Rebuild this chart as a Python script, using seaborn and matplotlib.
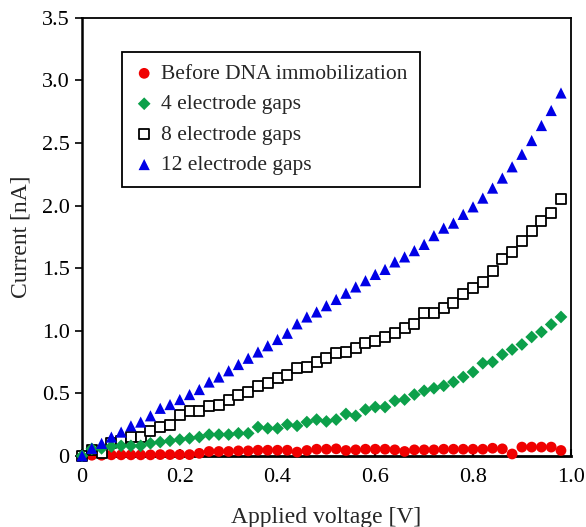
import pandas as pd
import matplotlib
matplotlib.use('Agg')
import matplotlib.pyplot as plt
import seaborn as sns

# Applied voltage [V]
voltage = [0.00, 0.02, 0.04, 0.06, 0.08, 0.10, 0.12, 0.14, 0.16, 0.18,
           0.20, 0.22, 0.24, 0.26, 0.28, 0.30, 0.32, 0.34, 0.36, 0.38,
           0.40, 0.42, 0.44, 0.46, 0.48, 0.50, 0.52, 0.54, 0.56, 0.58,
           0.60, 0.62, 0.64, 0.66, 0.68, 0.70, 0.72, 0.74, 0.76, 0.78,
           0.80, 0.82, 0.84, 0.86, 0.88, 0.90, 0.92, 0.94, 0.96, 0.98]

# Current [nA]
before_dna = [0.000, 0.005, 0.005, 0.008, 0.008, 0.008, 0.008, 0.008, 0.010, 0.010,
              0.010, 0.010, 0.020, 0.035, 0.035, 0.035, 0.040, 0.040, 0.045, 0.045,
              0.045, 0.045, 0.030, 0.043, 0.053, 0.053, 0.056, 0.043, 0.048, 0.053,
              0.053, 0.053, 0.048, 0.035, 0.048, 0.048, 0.048, 0.053, 0.053, 0.053,
              0.053, 0.053, 0.061, 0.056, 0.015, 0.070, 0.070, 0.070, 0.070, 0.043]

gaps_4 = [0.000, 0.056, 0.060, 0.075, 0.080, 0.080, 0.080, 0.100, 0.110, 0.120,
          0.130, 0.140, 0.150, 0.170, 0.170, 0.170, 0.180, 0.180, 0.230, 0.220,
          0.220, 0.250, 0.240, 0.270, 0.290, 0.275, 0.290, 0.335, 0.320, 0.370,
          0.390, 0.390, 0.440, 0.450, 0.490, 0.520, 0.540, 0.560, 0.590, 0.630,
          0.670, 0.740, 0.750, 0.810, 0.850, 0.890, 0.950, 0.990, 1.050, 1.110]

gaps_8 = [0.00, 0.05, 0.02, 0.10, 0.12, 0.15, 0.15, 0.20, 0.23, 0.25,
          0.33, 0.36, 0.36, 0.40, 0.41, 0.45, 0.49, 0.51, 0.56, 0.58,
          0.62, 0.65, 0.70, 0.71, 0.75, 0.78, 0.82, 0.83, 0.86, 0.90,
          0.92, 0.95, 0.98, 1.02, 1.05, 1.14, 1.14, 1.18, 1.22, 1.29,
          1.34, 1.39, 1.48, 1.57, 1.63, 1.72, 1.80, 1.88, 1.94, 2.05]

gaps_12 = [0.00, 0.06, 0.10, 0.15, 0.19, 0.24, 0.27, 0.32, 0.38, 0.41,
           0.45, 0.49, 0.53, 0.59, 0.63, 0.68, 0.73, 0.78, 0.83, 0.88,
           0.93, 0.98, 1.055, 1.11, 1.15, 1.20, 1.25, 1.30, 1.35, 1.40,
           1.45, 1.49, 1.55, 1.59, 1.64, 1.69, 1.76, 1.82, 1.86, 1.93,
           1.99, 2.06, 2.14, 2.22, 2.31, 2.41, 2.52, 2.64, 2.76, 2.90]

labels = ['Before DNA immobilization', '4 electrode gaps',
          '8 electrode gaps', '12 electrode gaps']

sns.set_style('white')
plt.rcParams['font.family'] = ['Liberation Serif', 'DejaVu Serif']

df = pd.DataFrame({'V': voltage, 'before': before_dna, 'g4': gaps_4,
                   'g8': gaps_8, 'g12': gaps_12})

fig, ax = plt.subplots(figsize=(5.86, 5.27), dpi=100)
fig.subplots_adjust(left=0.140, right=0.974, top=0.966, bottom=0.135)

# draw order: red, squares, green, blue
sns.scatterplot(data=df, x='V', y='before', ax=ax, marker='o', s=60,
                color='#f00000', edgecolor='none', label=labels[0],
                clip_on=False, zorder=3)
sns.scatterplot(data=df, x='V', y='g8', ax=ax, marker='s', s=50,
                facecolor='white', edgecolor='black', linewidth=1.3,
                label=labels[2], clip_on=False, zorder=4)
sns.scatterplot(data=df, x='V', y='g4', ax=ax, marker='D', s=42,
                color='#0ca04a', edgecolor='none', label=labels[1],
                clip_on=False, zorder=5)
sns.scatterplot(data=df, x='V', y='g12', ax=ax, marker='^', s=65,
                color='#0000e6', edgecolor='none', label=labels[3],
                clip_on=False, zorder=6)

ax.set_xlim(0, 1.0)
ax.set_ylim(0, 3.5)
ax.set_xticks([0, 0.2, 0.4, 0.6, 0.8, 1.0])
ax.set_xticklabels(['0', '0.2', '0.4', '0.6', '0.8', '1.0'])
ax.set_yticks([0, 0.5, 1.0, 1.5, 2.0, 2.5, 3.0, 3.5])
ax.set_yticklabels(['0', '0.5', '1.0', '1.5', '2.0', '2.5', '3.0', '3.5'])

ax.tick_params(axis='x', direction='in', length=5, width=1.5,
               labelsize=16, pad=9, colors='black')
ax.tick_params(axis='y', direction='out', length=5, width=1.2,
               labelsize=16, pad=4, colors='black')
ax.tick_params(bottom=True, left=True)

for sp in ax.spines.values():
    sp.set_color('black')
    sp.set_linewidth(1.3)
ax.spines['bottom'].set_linewidth(2.0)
ax.spines['left'].set_linewidth(1.8)

ax.set_xlabel('Applied voltage [V]', fontsize=17, labelpad=14)
ax.set_ylabel('Current [nA]', fontsize=17, labelpad=7)

handles, labs = ax.get_legend_handles_labels()
order = [labs.index(l) for l in labels]
leg = ax.legend([handles[i] for i in order], [labs[i] for i in order],
                loc='upper left', bbox_to_anchor=(0.082, 0.922),
                borderaxespad=0, fontsize=15.5, frameon=True, fancybox=False,
                edgecolor='black', framealpha=1, handletextpad=0.32,
                handlelength=0.95, labelspacing=0.48, borderpad=0.55)
leg.get_frame().set_linewidth(1.3)

plt.savefig('out.png', dpi=100)
